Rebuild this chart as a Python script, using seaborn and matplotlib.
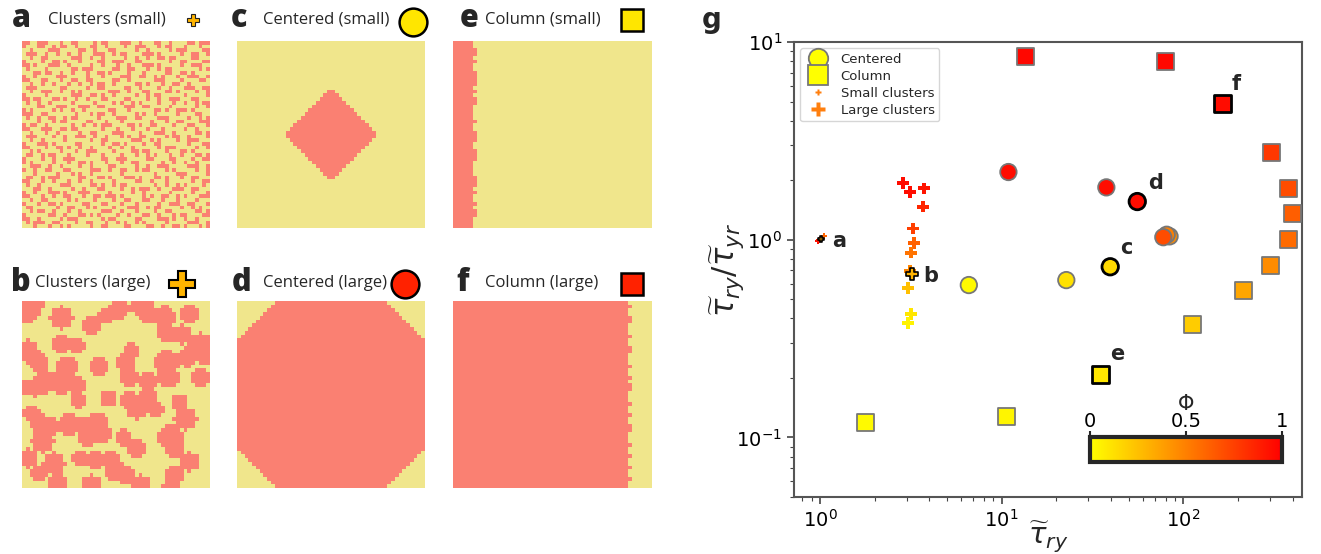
import numpy as np
import pandas as pd
import matplotlib
matplotlib.use('Agg')
import matplotlib.pyplot as plt
from matplotlib.colors import ListedColormap, Normalize
from matplotlib.cm import ScalarMappable
from matplotlib.lines import Line2D
import seaborn as sns

sns.set_theme(style='white')
plt.rcParams['font.family'] = ['DejaVu Sans']

# %%
# lattice configurations (50 x 50), '#' = filled site
N = 50
A_ROWS = [
    "##..###...#..##....#.##...###..#...##..#....##.###",
    "#...##..#.##..#...##..#....#..###...#.##...#...#..",
    "..#....###.....##..#...##.....#..#.....#.###....##",
    ".###..#..#..#..#...###..#.##....###.#.....#..##..#",
    "..#..##......###..#..#.....#..#..#..##.##....##...",
    "#....#..##.#...#....##..###...##.......#..##....##",
    "##.#...###..#.....#..#...#..#...###.#.....#..###..",
    ".#....#......##.###.....##..##...#..#.##.......#.#",
    "...##.##..#..#...#..##.#....#...#.....##..##.#....",
    "#..#.....###.....#...#....###..##..#.#...#..###..#",
    "##...##...#..##..##.....##..#......###....#....##.",
    "..#..#..#...#..#..#.##..#.....##.#...#..##..#.....",
    ".###......##.....#..##.....##..#....#..#...###..##",
    "..#..###..#..#.#.......###..#...##....##.#....#..#",
    "#.....#......###..##.#..#.....#..#.##......#.....#",
    "##.##...##.#..#..#...##....##....#..#..###...##...",
    ".#..#..#.....#.....#....#.#..#.#....#...#..#..#.##",
    "....##...###...###..##.....###..##.....#......#..#",
    "#.#.....#.#..#..#......##...#......##.#..###.#....",
    "###..##.......#...#.##..#.....#.#..#.....#....##..",
    ".#..#..##..#.##.....#....###..##....###.....#..#.#",
    "....#...#.##.....##...#...#.......#...#..##....###",
    "#.##..#......#..#..#.###....##.#..##....#...##...#",
    "##...###..##.##......#...#...#...#...#.....#..#...",
    "..#...#..#.....#..##....###....#...###..#.....##.#",
    ".###....#..#..###..#..#...#.#..##.....#.##..#....#",
    "..#..#.....#......#..##......###..#.#....#..###...",
    "#...###.#.....##.....#..##.#....#..##.......#...##",
    "##....#..##.#..#..#....#..#..#......#.###.....#..#",
    "..#.#.....#...#..###....#....##.##....#...##.#....",
    ".##..#.##...#....#...#....#...#..#.#...#..#...##.#",
    "#....#..#..###.......##..###.....##....##....#..##",
    "#.#.....#...#..##.#...#...#..##......#..#..#..#...",
    "..###..#..#....#..#....##.....#..#..###.....###..#",
    "#..#..##...##.....###..#..##..#.##....#.#.....#..#",
    "...#.....#...#.#..#.......#........#.....###.....#",
    ".##..#.###.....##...##.#...###.#...##.#...#..##...",
    "##...#..#...#..#..#.....#.....##..#...#......#..##",
    ".#..#.....###.....##.#..#.##.......#..#..#.#....#.",
    "...##..#.....#..#...##....#..#.###..#...###..##...",
    "#..#...###.#...###.....#.....#..#......#.....#...#",
    "##...#..#..##...#..##.###.#.....#.#..##..#.#...###",
    "..#..##.....#.#....#....#..##...##...#...#....#...",
    "#...#..##.#.....##...##...#...#.....#..###..##...#",
    ".##......#..##...#.#....#...###..#.##.....#..#.#..",
    "..#.##..#...#..#.....###..#...#....#..##......##.#",
    "#......##..#...##.#.#....#..#...##..#...#.##....##",
    "##..#.....#.###......#.##.....##....###.#..#..#...",
    ".#.###..##....#..##...#..#.#..#.#.....#.....###..#",
    "...#...#..#.#.....#..##....##....##..#..##.#...#.#",
]

# large clusters: (column, row, radius) of the blobs
B_BLOBS = [
    (0, 0, 5.2), (1, 3, 2.8), (10, 4, 3.0), (18, 6, 2.6), (22, 3.5, 2.4),
    (25.5, 1.5, 2.8), (31.5, 1, 3.0), (33, 3, 2.3), (37.5, 4, 3.1), (44, 3, 2.6),
    (38, 8, 2.8), (42, 8.5, 2.6), (47, 11, 3.0), (48, 13.5, 2.8), (10, 11, 2.4),
    (14, 11.5, 2.2), (1, 13, 3.0), (4, 16, 2.4), (11.5, 17, 3.0), (20, 17, 2.4),
    (27, 16, 2.4), (28.5, 13, 2.1), (38, 16, 3.3), (38.5, 20, 2.8), (43.5, 14.5, 2.6),
    (47, 20, 2.4), (28, 20, 2.4), (33, 21, 2.4), (0, 22.5, 2.4), (6, 21, 3.1),
    (10, 21.5, 2.8), (14, 22, 2.6), (3, 22.5, 2.6), (14.5, 26, 2.4), (22.5, 25.5, 2.4),
    (28, 26, 2.6), (33, 25.5, 2.6), (30, 28.5, 2.6), (35, 28.5, 2.3), (41.5, 26.5, 2.5),
    (43, 31, 3.0), (2, 29.5, 2.4), (4, 32, 2.8), (7, 33, 2.3), (12, 32.5, 3.0),
    (16, 33, 2.8), (19.5, 32.5, 3.0), (17, 36, 2.8), (21, 35, 2.3), (26.5, 36, 2.2),
    (5, 37, 3.0), (39, 36, 3.3), (40, 39, 2.8), (30, 39, 2.4), (1, 41.5, 2.6),
    (8, 43, 3.0), (15, 41.5, 2.4), (19, 42, 2.8), (23, 42, 2.3), (24, 44.5, 2.8),
    (27, 46, 2.8), (4, 45.5, 2.4), (9, 48.5, 3.0), (18, 48.5, 2.6), (31, 48.5, 2.6),
    (40, 46, 2.4), (44, 42.5, 2.6), (39, 49.5, 2.3),
]

diamond_radius = 12      # panel c, L1 radius in sites
octagon_radius = 39      # panel d
col_small_width = 5      # panel e
col_small_bumps = [2, 3, 5, 8, 9, 10, 11, 13, 15, 16, 21, 24, 25, 26, 29, 30, 31, 36, 37, 38, 40, 43, 45, 46]
col_large_width = 44     # panel f
col_large_bumps = [1, 4, 5, 9, 12, 13, 17, 20, 22, 23, 27, 30, 33, 34, 38, 41, 44, 47]

# %%
# panel g data
cent_tau = [6.6, 10.9, 22.7, 37.7, 39.6, 55.8, 84.0, 81.0, 77.6]
cent_ratio = [0.59, 2.2, 0.625, 1.84, 0.73, 1.56, 1.04, 1.06, 1.03]
cent_phi = [0.02, 0.95, 0.12, 0.95, 0.15, 0.95, 0.45, 0.5, 0.7]
cent_mark = [0, 0, 0, 0, 1, 1, 0, 0, 0]

col_tau = [13.5, 79.6, 164, 305, 379, 398, 379, 301, 214, 113, 34.9, 10.7, 1.79]
col_ratio = [8.4, 8.0, 4.9, 2.75, 1.82, 1.36, 1.0, 0.745, 0.556, 0.373, 0.209, 0.128, 0.119]
col_phi = [0.97, 0.97, 0.95, 0.78, 0.7, 0.63, 0.58, 0.45, 0.35, 0.2, 0.1, 0.04, 0.02]
col_mark = [0, 0, 1, 0, 0, 0, 0, 0, 0, 0, 1, 0, 0]

large_tau = [2.87, 3.13, 3.74, 3.69, 3.25, 3.29, 3.17, 3.13, 3.21, 3.05, 3.17, 3.05]
large_ratio = [1.93, 1.74, 1.82, 1.47, 1.14, 0.965, 0.86, 0.695, 0.67, 0.57, 0.42, 0.38]
large_phi = [0.95, 0.95, 0.92, 0.85, 0.75, 0.62, 0.55, 0.48, 0.3, 0.25, 0.1, 0.05]
large_mark = [0, 0, 0, 0, 0, 0, 0, 0, 1, 0, 0, 0]

small_tau = [0.97, 0.99, 1.03, 1.05, 1.01]
small_ratio = [0.98, 1.0, 1.02, 1.04, 1.01]
small_phi = [0.95, 0.9, 0.8, 0.6, 0.3]
small_mark = [0, 0, 0, 0, 1]

point_labels = ['a', 'b', 'c', 'd', 'e', 'f']
label_tau = [1.01, 3.21, 39.6, 55.8, 34.9, 164]
label_ratio = [1.01, 0.67, 0.73, 1.56, 0.209, 4.9]
label_offset = [(8, -6), (8, -6), (7, 6), (8, 6), (7, 7), (7, 7)]

# %%
# build the lattices
ii, jj = np.mgrid[0:N, 0:N]
lat_a = np.array([[1 if ch == '#' else 0 for ch in row.ljust(N, '.')[:N]] for row in A_ROWS])
lat_b = np.zeros((N, N), dtype=int)
for cx, cy, r in B_BLOBS:
    lat_b[(jj - cx) ** 2 + (ii - cy) ** 2 <= r ** 2] = 1
cc = (N - 1) / 2
lat_c = (np.abs(ii - cc) + np.abs(jj - cc) <= diamond_radius).astype(int)
lat_d = (np.abs(ii - cc) + np.abs(jj - cc) <= octagon_radius).astype(int)
lat_e = (jj < col_small_width).astype(int)
lat_e[col_small_bumps, col_small_width] = 1
lat_f = (jj < col_large_width).astype(int)
lat_f[col_large_bumps, col_large_width] = 1

W, H = 1321, 554
fig = plt.figure(figsize=(W / 100, H / 100), dpi=100)

lat_cmap = ListedColormap(['#f0e68c', '#fa8072'])
panel_px = {
    'a': (22, 41, 188, 187, lat_a), 'b': (22, 301, 188, 187, lat_b),
    'c': (237, 41, 188, 187, lat_c), 'd': (237, 301, 188, 187, lat_d),
    'e': (453, 41, 199, 187, lat_e), 'f': (453, 301, 199, 187, lat_f),
}
for key, (x0, y0, w, h, lat) in panel_px.items():
    ax = fig.add_axes([x0 / W, 1 - (y0 + h) / H, w / W, h / H])
    sns.heatmap(lat, cmap=lat_cmap, vmin=0, vmax=1, cbar=False,
                xticklabels=False, yticklabels=False, ax=ax)
    ax.set_xlabel('')
    ax.set_ylabel('')

# titles and icons of the lattice panels (pixel coordinates)
ov = fig.add_axes([0, 0, 1, 1], facecolor='none')
ov.set_xlim(0, W)
ov.set_ylim(H, 0)
ov.axis('off')
titles = [('a', 12, 48, 19, 'Clusters (small)'), ('b', 11, 35, 283, 'Clusters (large)'),
          ('c', 231, 263, 19, 'Centered (small)'), ('d', 232, 263, 283, 'Centered (large)'),
          ('e', 460, 485, 19, 'Column (small)'), ('f', 456, 485, 283, 'Column (large)')]
for let, lx, tx, ty, txt in titles:
    ov.text(lx, ty, let, fontsize=22, fontweight='heavy', va='center', ha='left',
            family=['Open Sans', 'DejaVu Sans'])
    ov.text(tx, ty, txt, fontsize=12, va='center', ha='left',
            family=['Open Sans', 'DejaVu Sans'])
ov.plot([193], [20], marker='P', ms=9, mfc='#ffb400', mec='#222222', mew=0.8)
ov.plot([182], [284], marker='P', ms=19, mfc='#ffb400', mec='black', mew=1.5)
ov.plot([413], [22], marker='o', ms=20, mfc='#ffe600', mec='black', mew=1.8)
ov.plot([405], [284], marker='o', ms=20, mfc='#ff2200', mec='black', mew=1.8)
ov.plot([632], [20], marker='s', ms=16, mfc='#ffe600', mec='black', mew=1.8)
ov.plot([632], [284], marker='s', ms=16, mfc='#ff2200', mec='black', mew=1.8)
ov.text(702, 20, 'g', fontsize=20, fontweight='bold', va='center', ha='left')

# %%
# panel g
ax = fig.add_axes([794 / W, 1 - 497 / H, 508 / W, 455 / H])
norm = Normalize(0, 1)
cmap = 'autumn_r'

cent = pd.DataFrame({'tau': cent_tau, 'ratio': cent_ratio, 'phi': cent_phi, 'mark': cent_mark})
col = pd.DataFrame({'tau': col_tau, 'ratio': col_ratio, 'phi': col_phi, 'mark': col_mark})
large = pd.DataFrame({'tau': large_tau, 'ratio': large_ratio, 'phi': large_phi, 'mark': large_mark})
small = pd.DataFrame({'tau': small_tau, 'ratio': small_ratio, 'phi': small_phi, 'mark': small_mark})

for df, mk, s in [(cent, 'o', 140), (col, 's', 150)]:
    plain = df[df['mark'] == 0]
    hl = df[df['mark'] == 1]
    sns.scatterplot(data=plain, x='tau', y='ratio', hue='phi', palette=cmap, hue_norm=norm,
                    marker=mk, s=s, edgecolor='#777777', linewidth=1.3, legend=False, ax=ax,
                    zorder=3, clip_on=False)
    sns.scatterplot(data=hl, x='tau', y='ratio', hue='phi', palette=cmap, hue_norm=norm,
                    marker=mk, s=s, edgecolor='black', linewidth=2, legend=False, ax=ax, zorder=4)
for df, s in [(large, 70), (small, 18)]:
    plain = df[df['mark'] == 0]
    hl = df[df['mark'] == 1]
    sns.scatterplot(data=plain, x='tau', y='ratio', hue='phi', palette=cmap, hue_norm=norm,
                    marker='P', s=s, linewidth=0, legend=False, ax=ax, zorder=3)
    sns.scatterplot(data=hl, x='tau', y='ratio', hue='phi', palette=cmap, hue_norm=norm,
                    marker='P', s=s, edgecolor='black', linewidth=1.2, legend=False, ax=ax, zorder=4)

for lab, x, y, off in zip(point_labels, label_tau, label_ratio, label_offset):
    ax.annotate(lab, (x, y), xytext=off, textcoords='offset points', fontsize=15,
                fontweight='bold', ha='left', va='bottom' if off[1] > 0 else 'baseline', zorder=5)

ax.set_xscale('log')
ax.set_yscale('log')
ax.set_xlim(0.72, 450)
ax.set_ylim(0.05, 10)
ax.tick_params(which='major', direction='out', length=5, width=1.2, labelsize=14,
               bottom=True, left=True, color='#444444', labelcolor='black')
ax.tick_params(which='minor', direction='out', length=3, width=0.8,
               bottom=True, left=True, color='#444444')
for sp in ax.spines.values():
    sp.set_color('#555555')
    sp.set_linewidth(1.5)
ax.set_xlabel(r'$\widetilde{\tau}_{ry}$', fontsize=21, labelpad=-8)
ax.set_ylabel(r'$\widetilde{\tau}_{ry}/\widetilde{\tau}_{yr}$', fontsize=22, labelpad=-7)

handles = [
    Line2D([], [], ls='none', marker='o', ms=14, mfc='#ffff00', mec='#777777', mew=1.3),
    Line2D([], [], ls='none', marker='s', ms=14, mfc='#ffff00', mec='#777777', mew=1.3),
    Line2D([], [], ls='none', marker='P', ms=5, mfc='#ff7f0e', mec='none'),
    Line2D([], [], ls='none', marker='P', ms=10, mfc='#ff7f0e', mec='none'),
]
ax.legend(handles, ['Centered', 'Column', 'Small clusters', 'Large clusters'],
          loc='upper left', fontsize=9.5, frameon=True, borderpad=0.35, labelspacing=0.3,
          handletextpad=0.7, borderaxespad=0.3, bbox_to_anchor=(0.005, 0.995))

# colorbar
cax = fig.add_axes([1090 / W, 1 - 462 / H, 192 / W, 25 / H])
cb = fig.colorbar(ScalarMappable(norm=norm, cmap=cmap), cax=cax, orientation='horizontal')
cb.set_ticks([0, 0.5, 1])
cb.set_ticklabels(['0', '0.5', '1'])
cax.xaxis.set_ticks_position('top')
cax.xaxis.set_label_position('top')
cax.tick_params(labelsize=14, length=4, width=1.5, pad=0, labelcolor='black')
cb.set_label('Φ', fontsize=15, labelpad=2)
cb.outline.set_linewidth(3)

fig.savefig('out.png', dpi=100)
